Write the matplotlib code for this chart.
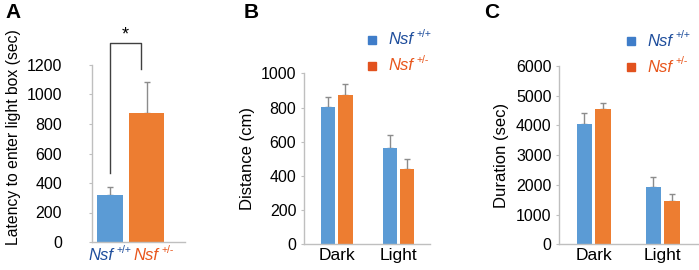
import matplotlib
matplotlib.use("Agg")
import matplotlib.pyplot as plt
from matplotlib.text import Annotation

# ---- data ----
genotypes = ["+/+", "+/-"]

latency_mean = [320, 877]
latency_sem = [55, 210]

phases = ["Dark", "Light"]
distance_wt = [801, 565]
distance_het = [871, 440]
distance_wt_sem = [62, 74]
distance_het_sem = [67, 57]

duration_wt = [4048, 1938]
duration_het = [4543, 1457]
duration_wt_sem = [360, 337]
duration_het_sem = [222, 236]

BLUE = "#5B9BD5"
ORANGE = "#ED7D31"
BLUE_TXT = "#1F4E9C"
ORANGE_TXT = "#E8561C"
BLUE_SQ = "#3F7DC9"
ORANGE_SQ = "#E2521E"
SPINE = "#BFBFBF"
ERR = "#8C8C8C"

plt.rcParams["font.family"] = ["Liberation Sans", "DejaVu Sans"]

W, H = 699, 270
fig = plt.figure(figsize=(W / 100, H / 100), dpi=100)


def box(x0, y_bottom, x1, y_top):
    # pixel coordinates (top-left origin) -> figure fraction rect
    return [x0 / W, (H - y_bottom) / H, (x1 - x0) / W, (y_bottom - y_top) / H]


def fx(x):
    return x / W


def fy(y):
    return (H - y) / H


def style(ax, ymax, step, pad=3):
    for s in ("top", "right"):
        ax.spines[s].set_visible(False)
    for s in ("left", "bottom"):
        ax.spines[s].set_color(SPINE)
        ax.spines[s].set_linewidth(1)
    ax.set_ylim(0, ymax)
    ax.set_yticks(range(0, ymax + 1, step))
    ax.tick_params(axis="y", length=2.5, color=SPINE, labelsize=11.5, pad=pad)
    ax.tick_params(axis="x", length=0, labelsize=12.5, pad=3)


def geno_text(x, y, g, color, size=12):
    # "Nsf" in italics with a small upright superscript
    t = fig.text(fx(x), fy(y), "Nsf", fontstyle="italic", color=color,
                 fontsize=size, va="center", ha="left")
    fig.add_artist(Annotation(g, xy=(1, 0.55), xycoords=t, xytext=(2.5, 0),
                              textcoords="offset points", fontsize=size * 0.62,
                              color=color, va="bottom", ha="left"))
    return t


def legend(x, y):
    for i, (sq, tc) in enumerate([(BLUE_SQ, BLUE_TXT), (ORANGE_SQ, ORANGE_TXT)]):
        yy = y + i * 26
        fig.patches.append(plt.Rectangle((fx(x), fy(yy + 4)), 8 / W, 8 / H,
                                         transform=fig.transFigure, color=sq))
        geno_text(x + 20, yy, genotypes[i], tc)


# ---- panel A ----
axA = fig.add_axes(box(92, 242, 185, 65))
style(axA, 1200, 200, pad=19)
xa = [0, 1]
axA.errorbar(xa, latency_mean, yerr=[[0, 0], latency_sem], fmt="none",
             ecolor=ERR, elinewidth=1, capsize=2, zorder=1)
axA.bar(xa, latency_mean, width=[0.70, 0.94], color=[BLUE, ORANGE], zorder=2)
axA.set_xlim(-0.477, 2.03)
axA.set_xticks([])
axA.set_ylabel("Latency to enter light box (sec)", fontsize=11.3)
axA.yaxis.set_label_coords((21 - 92) / 93, (242 - 137.5) / 177)
# genotype labels under the bars
geno_text(88, 256, genotypes[0], BLUE_TXT)
geno_text(133, 256, genotypes[1], ORANGE_TXT)
# significance bracket
axA.plot([0, 0, 0.84, 0.84], [470, 1349, 1349, 1173], color="#404040",
         lw=1, clip_on=False)
axA.text(0.42, 1349, "*", ha="center", va="bottom", fontsize=13)

# ---- panel B ----
axB = fig.add_axes(box(304, 244.3, 430, 73.3))
style(axB, 1000, 200)
xg = [0, 1]
off, bw = 0.14, 0.236
axB.errorbar([x - off for x in xg], distance_wt, yerr=[[0, 0], distance_wt_sem],
             fmt="none", ecolor=ERR, elinewidth=1, capsize=2, zorder=1)
axB.errorbar([x + off for x in xg], distance_het, yerr=[[0, 0], distance_het_sem],
             fmt="none", ecolor=ERR, elinewidth=1, capsize=2, zorder=1)
axB.bar([x - off for x in xg], distance_wt, width=bw, color=BLUE, zorder=2)
axB.bar([x + off for x in xg], distance_het, width=bw, color=ORANGE, zorder=2)
axB.set_xlim(-0.53, 1.51)
axB.set_xticks(xg)
axB.set_xticklabels(phases)
axB.set_ylabel("Distance (cm)", fontsize=12, labelpad=4)
legend(368, 40)

# ---- panel C ----
axC = fig.add_axes(box(559.3, 244.3, 698, 66))
style(axC, 6000, 1000)
off, bw = 0.135, 0.23
axC.errorbar([x - off for x in xg], duration_wt, yerr=[[0, 0], duration_wt_sem],
             fmt="none", ecolor=ERR, elinewidth=1, capsize=2, zorder=1)
axC.errorbar([x + off for x in xg], duration_het, yerr=[[0, 0], duration_het_sem],
             fmt="none", ecolor=ERR, elinewidth=1, capsize=2, zorder=1)
axC.bar([x - off for x in xg], duration_wt, width=bw, color=BLUE, zorder=2)
axC.bar([x + off for x in xg], duration_het, width=bw, color=ORANGE, zorder=2)
axC.set_xlim(-0.5, 1.51)
axC.set_xticks(xg)
axC.set_xticklabels(phases)
axC.set_ylabel("Duration (sec)", fontsize=12, labelpad=5)
legend(627, 41)

# panel letters
for letter, x in [("A", 5), ("B", 244), ("C", 484)]:
    fig.text(fx(x), fy(12), letter, fontsize=15, fontweight="bold",
             va="center", ha="left")

fig.savefig("out.png", dpi=100)
